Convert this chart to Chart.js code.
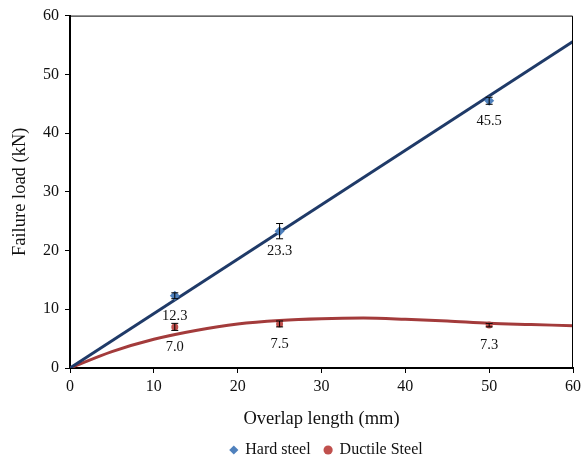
<!DOCTYPE html>
<html>
<head>
<meta charset="utf-8">
<script src="https://cdn.jsdelivr.net/npm/chart.js@4.4.0/dist/chart.umd.min.js"></script>
<style>
    html, body { margin: 0; padding: 0; background: #ffffff; }
    #chartHolder { width: 582px; height: 458px; }
</style>
</head>
<body>
<div id="chartHolder"><canvas id="chart" width="582" height="458"></canvas></div>
<script>
const overlapLength = [12.5, 25, 50];
const hardLoad = [12.3, 23.3, 45.5];
const hardError = [0.5, 1.3, 0.6];
const ductileLoad = [7.0, 7.5, 7.3];
const ductileError = [0.6, 0.5, 0.3];

// Trendlines
const hardTrendX = [0, 60];
const hardTrendY = [0, 55.6];
const ductileTrendX = [0, 5, 10, 15, 20, 25, 30, 35, 40, 45, 50, 55, 60];
const ductileTrendY = [0, 2.8, 4.9, 6.4, 7.5, 8.1, 8.4, 8.5, 8.3, 8.0, 7.6, 7.4, 7.2];

const xTicks = [0, 10, 20, 30, 40, 50, 60];
const yTicks = [0, 10, 20, 30, 40, 50, 60];

const FONT = "'Liberation Serif', 'Times New Roman', serif";

function toPoints(xs, ys) {
    return xs.map((x, i) => ({ x: x, y: ys[i] }));
}

// Error bars and value labels drawn through the chart scales
const errorBarPlugin = {
    id: 'errorBars',
    afterLayout(chart) {
        // nudge the legend so it sits under the middle of the plot like the original
        chart.legend.left += 10;
    },
    afterDatasetsDraw(chart) {
        const ctx = chart.ctx;
        const xScale = chart.scales.x;
        const yScale = chart.scales.y;
        ctx.save();
        chart.data.datasets.forEach((ds) => {
            if (!ds.errors) return;
            ds.data.forEach((p, i) => {
                const px = xScale.getPixelForValue(p.x);
                const top = yScale.getPixelForValue(p.y + ds.errors[i]);
                const bottom = yScale.getPixelForValue(p.y - ds.errors[i]);
                ctx.strokeStyle = '#000000';
                ctx.lineWidth = 1;
                ctx.beginPath();
                ctx.moveTo(px, top);
                ctx.lineTo(px, bottom);
                ctx.moveTo(px - 3.5, top);
                ctx.lineTo(px + 3.5, top);
                ctx.moveTo(px - 3.5, bottom);
                ctx.lineTo(px + 3.5, bottom);
                ctx.stroke();

                // value label below the marker
                const py = yScale.getPixelForValue(p.y);
                ctx.fillStyle = '#111111';
                ctx.font = '14.5px ' + FONT;
                ctx.textAlign = 'center';
                ctx.textBaseline = 'middle';
                ctx.fillText(p.y.toFixed(1), px, py + 20);
            });
        });
        // thin frame on top and right of the plot area
        const a = chart.chartArea;
        ctx.strokeStyle = '#000000';
        ctx.lineWidth = 1;
        ctx.beginPath();
        ctx.moveTo(a.left, a.top + 0.5);
        ctx.lineTo(a.right - 0.5, a.top + 0.5);
        ctx.lineTo(a.right - 0.5, a.bottom);
        ctx.stroke();
        ctx.restore();
    }
};

const config = {
    type: 'scatter',
    data: {
        datasets: [
            {
                label: 'Hard steel',
                data: toPoints(overlapLength, hardLoad),
                errors: hardError,
                pointStyle: 'rectRot',
                pointRadius: 5,
                backgroundColor: '#4F81BD',
                borderColor: '#4F81BD',
                borderWidth: 0
            },
            {
                label: 'Ductile Steel',
                data: toPoints(overlapLength, ductileLoad),
                errors: ductileError,
                pointStyle: 'circle',
                pointRadius: 3.5,
                backgroundColor: '#C0504D',
                borderColor: '#C0504D',
                borderWidth: 0
            },
            {
                label: 'hardTrend',
                type: 'line',
                data: toPoints(hardTrendX, hardTrendY),
                borderColor: '#1F3A68',
                borderWidth: 3,
                pointRadius: 0,
                fill: false
            },
            {
                label: 'ductileTrend',
                type: 'line',
                data: toPoints(ductileTrendX, ductileTrendY),
                borderColor: '#A33B3B',
                borderWidth: 3,
                pointRadius: 0,
                cubicInterpolationMode: 'monotone',
                fill: false
            }
        ]
    },
    options: {
        responsive: false,
        animation: false,
        layout: {
            padding: { top: 14, right: 9, left: 0, bottom: 0 }
        },
        scales: {
            x: {
                type: 'linear',
                min: 0,
                max: 60,
                afterBuildTicks: (scale) => { scale.ticks = xTicks.map(v => ({ value: v })); },
                afterFit: (scale) => {
                    scale.height = 60;
                    // let the last label hang into the right margin
                    scale.paddingRight = 0;
                },
                grid: { drawOnChartArea: false, drawTicks: true, tickLength: 5, color: '#000000' },
                border: { display: true, color: '#000000', width: 2 },
                ticks: { color: '#111111', padding: 4, font: { family: FONT, size: 16 } },
                title: {
                    display: true,
                    text: 'Overlap length (mm)',
                    color: '#111111',
                    font: { family: FONT, size: 18.5, lineHeight: 1 },
                    padding: { top: 0, bottom: 0 }
                }
            },
            y: {
                type: 'linear',
                min: 0,
                max: 60,
                afterBuildTicks: (scale) => { scale.ticks = yTicks.map(v => ({ value: v })); },
                afterFit: (scale) => { scale.width = 70; },
                grid: { drawOnChartArea: false, drawTicks: true, tickLength: 5, color: '#000000' },
                border: { display: true, color: '#000000', width: 2 },
                ticks: { color: '#111111', padding: 6, font: { family: FONT, size: 16 } },
                title: {
                    display: true,
                    text: 'Failure load (kN)',
                    color: '#111111',
                    font: { family: FONT, size: 18.5 },
                    padding: { top: 9, bottom: 0 }
                }
            }
        },
        plugins: {
            legend: {
                position: 'bottom',
                fullSize: false,
                maxHeight: 30,
                labels: {
                    usePointStyle: true,
                    boxWidth: 7,
                    boxHeight: 6.5,
                    padding: 14,
                    color: '#111111',
                    font: { family: FONT, size: 16 },
                    filter: (item) => item.text === 'Hard steel' || item.text === 'Ductile Steel'
                }
            },
            tooltip: { enabled: false }
        }
    },
    plugins: [errorBarPlugin]
};

new Chart(document.getElementById('chart').getContext('2d'), config);
</script>
</body>
</html>
